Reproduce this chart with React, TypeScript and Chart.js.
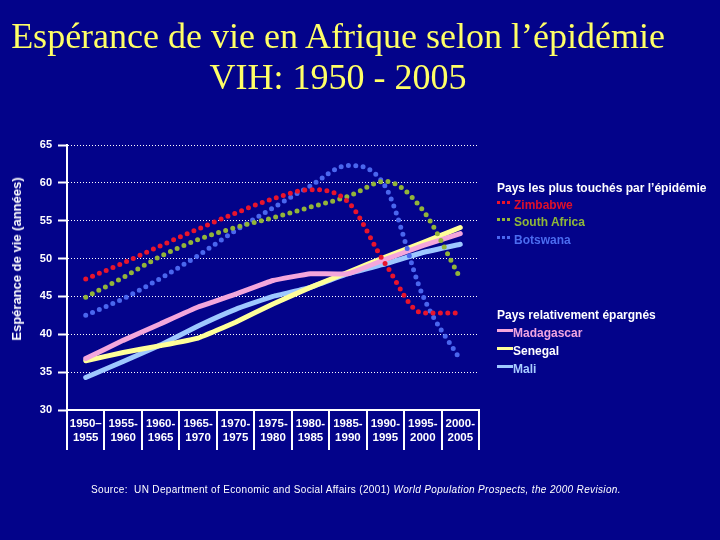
import React, { useEffect, useRef } from "react";
import { Chart, registerables } from "chart.js";

Chart.register(...registerables);

// ---- data ----
const periods: string[][] = [
  ["1950–", "1955"],
  ["1955-", "1960"],
  ["1960-", "1965"],
  ["1965-", "1970"],
  ["1970-", "1975"],
  ["1975-", "1980"],
  ["1980-", "1985"],
  ["1985-", "1990"],
  ["1990-", "1995"],
  ["1995-", "2000"],
  ["2000-", "2005"],
];
const zimbabwe = [47.3, 49.4, 51.7, 53.9, 56.0, 57.9, 59.1, 57.5, 49.3, 42.8, 42.8];
const southAfrica = [44.9, 47.5, 50.3, 52.5, 54.1, 55.4, 56.8, 58.2, 60.2, 56.4, 47.4];
const botswana = [42.5, 44.7, 47.4, 50.4, 53.7, 56.7, 59.6, 62.3, 59.5, 45.1, 36.6];
const madagascar = [36.8, 39.2, 41.4, 43.6, 45.3, 47.1, 48.0, 48.0, 49.9, 51.7, 53.3];
const senegal = [36.5, 37.6, 38.5, 39.5, 41.6, 44.0, 46.2, 48.2, 50.2, 52.1, 54.1];
const mali = [34.3, 36.4, 38.6, 41.1, 43.3, 45.0, 46.2, 48.0, 49.3, 50.8, 51.9];
const yMin = 30;
const yMax = 65;
const yStep = 5;

const titleLines = ["Espérance de vie en Afrique selon l’épidémie", "VIH: 1950 - 2005"];
const yTitle = "Espérance de vie (années)";
const groupHit = "Pays les plus touchés par l’épidémie";
const groupSpared = "Pays relativement épargnés";

const hitSeries = [
  { name: "Zimbabwe", data: zimbabwe, color: "#e8142c", text: "#e0102a" },
  { name: "South Africa", data: southAfrica, color: "#92b43a", text: "#8fb838" },
  { name: "Botswana", data: botswana, color: "#4a66ee", text: "#4b6cf0" },
];
const sparedSeries = [
  { name: "Madagascar", data: madagascar, color: "#f4a6dc", text: "#f0a4e0" },
  { name: "Senegal", data: senegal, color: "#ffff99", text: "#ffffff" },
  { name: "Mali", data: mali, color: "#9ec8ff", text: "#a8ccff" },
];

const BG = "#03038a";
const SANS = "Arial, 'Liberation Sans', sans-serif";

export default function App() {
  const canvasRef = useRef<HTMLCanvasElement | null>(null);

  useEffect(() => {
    const canvas = canvasRef.current;
    if (!canvas) return;
    const datasets: any[] = [
      ...hitSeries.map((s) => ({
        label: s.name,
        data: s.data,
        borderColor: s.color,
        backgroundColor: s.color,
        borderWidth: 5,
        borderDash: [0, 7.4],
        borderCapStyle: "round",
        pointRadius: 0,
        cubicInterpolationMode: "monotone",
        fill: false,
      })),
      ...sparedSeries.map((s) => ({
        label: s.name,
        data: s.data,
        borderColor: s.color,
        backgroundColor: s.color,
        borderWidth: 5,
        borderCapStyle: "round",
        borderJoinStyle: "round",
        pointRadius: 0,
        tension: 0.1,
        fill: false,
      })),
    ];
    const chart = new Chart(canvas, {
      type: "line",
      data: { labels: periods as any, datasets },
      options: {
        animation: false,
        responsive: false,
        maintainAspectRatio: false,
        layout: { padding: { left: 0, top: 145, right: 241, bottom: 0 } },
        plugins: {
          legend: { display: false },
          title: { display: false },
          tooltip: { enabled: false },
        },
        scales: {
          x: {
            offset: true,
            ticks: {
              color: "#ffffff",
              font: { family: SANS, size: 11.5, weight: "bold", lineHeight: 1.2 },
              padding: -33,
              maxRotation: 0,
              minRotation: 0,
              autoSkip: false,
            },
            grid: {
              offset: true,
              drawOnChartArea: false,
              color: "#ffffff",
              lineWidth: 2,
              tickLength: 40,
            },
            border: { color: "#ffffff", width: 2 },
            afterFit: (s: any) => {
              s.height = 130;
            },
          },
          y: {
            min: yMin,
            max: yMax,
            ticks: {
              stepSize: yStep,
              color: "#ffffff",
              font: { family: SANS, size: 11, weight: "bold" },
              padding: 6,
            },
            grid: {
              color: "#ffffff",
              lineWidth: 1,
              tickColor: "#ffffff",
              tickWidth: 2,
              tickLength: 9,
              tickBorderDash: [],
            },
            border: { color: "#ffffff", width: 2, dash: [1, 2] },
            afterFit: (s: any) => {
              s.width = 67;
            },
          },
        },
      } as any,
    });
    return () => chart.destroy();
  }, []);

  const textBase: React.CSSProperties = {
    position: "absolute",
    whiteSpace: "nowrap",
    fontFamily: SANS,
    fontWeight: "bold",
    fontSize: 12,
    lineHeight: "14px",
  };

  const dotMarker = (color: string) => (
    <span style={{ display: "inline-block", width: 16, height: 3, marginRight: 1, verticalAlign: "middle", position: "relative", top: -3 }}>
      {[0, 5, 10].map((x) => (
        <span key={x} style={{ position: "absolute", left: x, top: 0, width: 3, height: 3, background: color }} />
      ))}
    </span>
  );
  const lineMarker = (color: string) => (
    <span style={{ display: "inline-block", width: 16, height: 3, background: color, marginRight: 0, verticalAlign: "middle", position: "relative", top: -3 }} />
  );

  const hitRowsY = [205, 222, 240];
  const sparedRowsY = [333, 351, 369];

  return (
    <div style={{ position: "absolute", left: 0, top: 0, width: 720, height: 540, background: BG, overflow: "hidden" }}>
      <canvas ref={canvasRef} width={720} height={540} style={{ position: "absolute", left: 0, top: 0, width: 720, height: 540 }} />
      {titleLines.map((t, i) => (
        <div
          key={i}
          style={{
            position: "absolute",
            left: 338,
            top: 16 + i * 41,
            transform: "translateX(-50%)",
            whiteSpace: "nowrap",
            fontFamily: "'Liberation Serif', 'Times New Roman', serif",
            fontSize: 36,
            lineHeight: "40px",
            color: "#ffff66",
          }}
        >
          {t}
        </div>
      ))}
      <div
        style={{
          ...textBase,
          fontSize: 13,
          color: "#ffffff",
          left: 16.5,
          top: 258.5,
          transform: "translate(-50%, -50%) rotate(-90deg)",
        }}
      >
        {yTitle}
      </div>
      <div style={{ ...textBase, left: 497, top: 181, color: "#ffffff" }}>{groupHit}</div>
      {hitSeries.map((s, i) => (
        <div key={s.name} style={{ ...textBase, left: 497, top: hitRowsY[i] - 7, color: s.text }}>
          {dotMarker(s.color)}
          {s.name}
        </div>
      ))}
      <div style={{ ...textBase, left: 497, top: 308, color: "#ffffff" }}>{groupSpared}</div>
      {sparedSeries.map((s, i) => (
        <div key={s.name} style={{ ...textBase, left: 497, top: sparedRowsY[i] - 7, color: s.text }}>
          {lineMarker(s.color)}
          {s.name}
        </div>
      ))}
      <div
        style={{
          position: "absolute",
          left: 91,
          top: 483,
          whiteSpace: "nowrap",
          fontFamily: SANS,
          fontSize: 10,
          letterSpacing: "0.34px",
          lineHeight: "14px",
          color: "#ffffff",
        }}
      >
        Source:&nbsp; UN Department of Economic and Social Affairs (2001){" "}
        <i>World Population Prospects, the 2000 Revision.</i>
      </div>
    </div>
  );
}
